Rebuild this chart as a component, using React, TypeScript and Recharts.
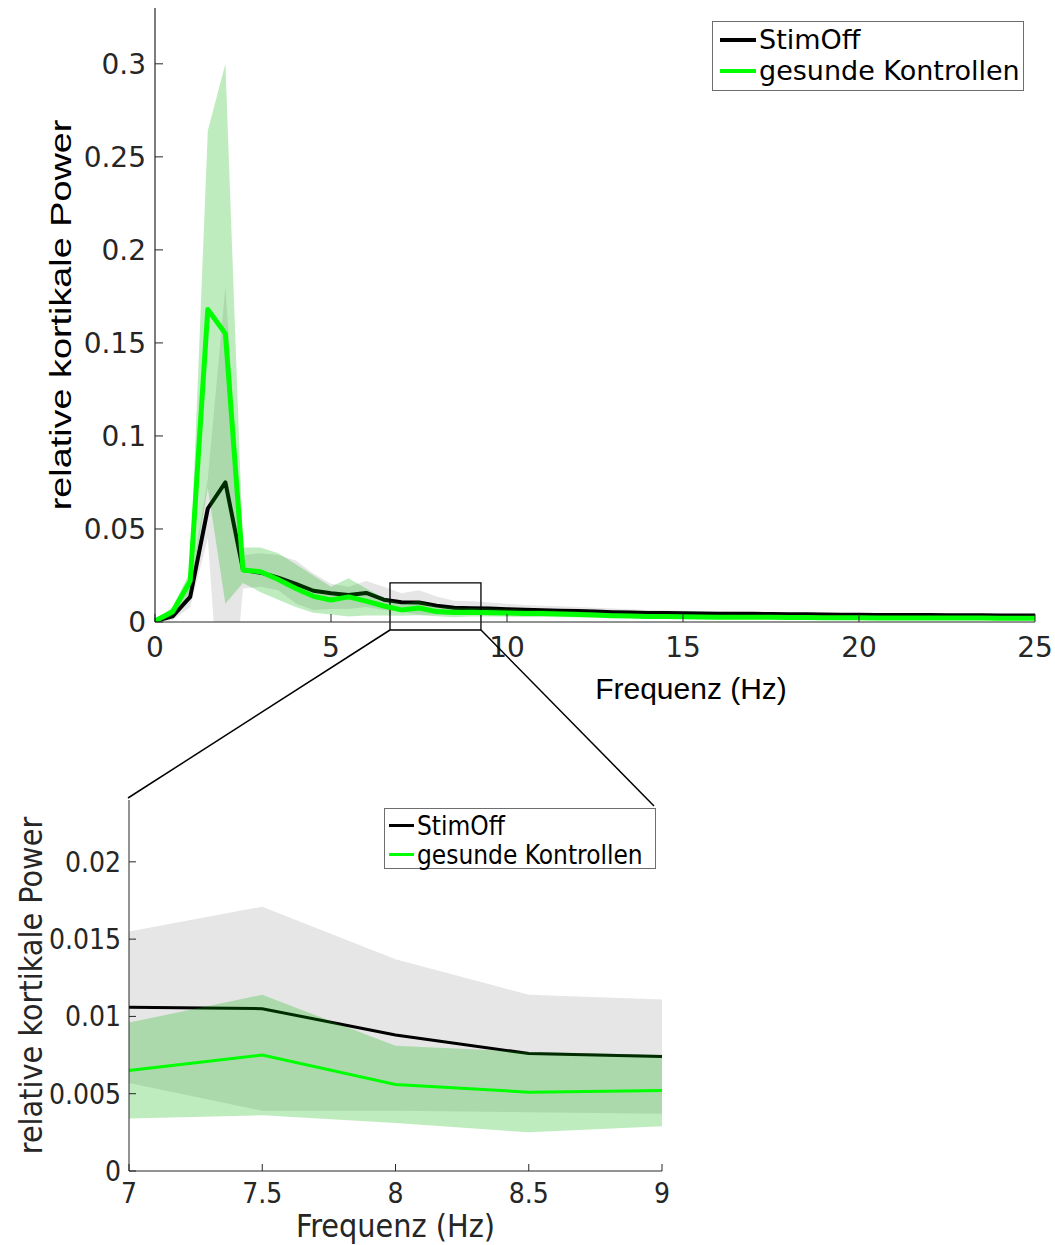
import React from 'react';
import { ComposedChart, Area, Line, XAxis, YAxis, Legend, ReferenceArea, Label } from 'recharts';

// ---------- data ----------
const freq = [
  0, 0.5, 1, 1.5, 2, 2.5, 3, 3.5, 4, 4.5, 5, 5.5, 6, 6.5, 7, 7.5, 8, 8.5, 9, 9.5,
  10, 10.5, 11, 11.5, 12, 12.5, 13, 13.5, 14, 14.5, 15, 15.5, 16, 16.5, 17, 17.5, 18, 18.5, 19, 19.5,
  20, 20.5, 21, 21.5, 22, 22.5, 23, 23.5, 24, 24.5, 25,
];

const stimOffMean = [
  0.0005, 0.003, 0.0135, 0.061, 0.075, 0.028, 0.0265, 0.0238, 0.0205, 0.0168, 0.0154, 0.0145, 0.0156, 0.012, 0.0106, 0.0105, 0.0088, 0.0076, 0.0074, 0.0072,
  0.0069, 0.0066, 0.0063, 0.0061, 0.0059, 0.0056, 0.0053, 0.0051, 0.0049, 0.0048, 0.0047, 0.0046, 0.0045, 0.0044, 0.0044, 0.0043, 0.0042, 0.0041, 0.004, 0.0039,
  0.0039, 0.0038, 0.0038, 0.0037, 0.0037, 0.0036, 0.0036, 0.0036, 0.0035, 0.0035, 0.0035,
];
const stimOffLow = [
  0, 0.001, 0.008, 0.045, -0.09, 0.018, 0.019, 0.017, 0.01, 0.0065, 0.007, 0.007, 0.008, 0.0065, 0.0057, 0.0039, 0.0039, 0.0038, 0.0037, 0.0037,
  0.0037, 0.0036, 0.0036, 0.0035, 0.0035, 0.0034, 0.0033, 0.0032, 0.0031, 0.0031, 0.003, 0.003, 0.003, 0.0029, 0.0029, 0.0029, 0.0028, 0.0028, 0.0028, 0.0027,
  0.0027, 0.0027, 0.0027, 0.0026, 0.0026, 0.0026, 0.0026, 0.0026, 0.0025, 0.0025, 0.0025,
];
const stimOffHigh = [
  0.001, 0.005, 0.02, 0.077, 0.18, 0.036, 0.037, 0.036, 0.033, 0.026, 0.0205, 0.019, 0.022, 0.019, 0.0155, 0.0171, 0.0137, 0.0114, 0.0111, 0.0105,
  0.0098, 0.0092, 0.0088, 0.0084, 0.008, 0.0076, 0.0072, 0.0068, 0.0065, 0.0062, 0.006, 0.0058, 0.0056, 0.0055, 0.0054, 0.0053, 0.0052, 0.0051, 0.005, 0.0049,
  0.0048, 0.0047, 0.0047, 0.0046, 0.0046, 0.0045, 0.0045, 0.0045, 0.0044, 0.0044, 0.0044,
];

const controlMean = [
  0.0005, 0.0055, 0.022, 0.168, 0.155, 0.028, 0.027, 0.0228, 0.018, 0.0138, 0.0118, 0.0135, 0.0112, 0.0086, 0.0065, 0.0075, 0.0056, 0.0051, 0.0052, 0.005,
  0.0048, 0.0046, 0.0046, 0.0043, 0.004, 0.0037, 0.0034, 0.0032, 0.003, 0.0029, 0.0028, 0.0027, 0.0026, 0.0026, 0.0025, 0.0025, 0.0024, 0.0024, 0.0023, 0.0023,
  0.0023, 0.0022, 0.0022, 0.0022, 0.0021, 0.0021, 0.0021, 0.0021, 0.002, 0.002, 0.002,
];
const controlLow = [
  0, 0.003, 0.016, 0.072, 0.0098, 0.021, 0.016, 0.012, 0.008, 0.005, 0.004, 0.003, 0.0035, 0.0035, 0.0034, 0.0036, 0.0031, 0.0025, 0.0029, 0.0029,
  0.0028, 0.0027, 0.0027, 0.0026, 0.0025, 0.0023, 0.0022, 0.0021, 0.002, 0.0019, 0.0019, 0.0018, 0.0018, 0.0018, 0.0017, 0.0017, 0.0017, 0.0017, 0.0016, 0.0016,
  0.0016, 0.0016, 0.0016, 0.0016, 0.0015, 0.0015, 0.0015, 0.0015, 0.0015, 0.0015, 0.0015,
];
const controlHigh = [
  0.001, 0.008, 0.027, 0.264, 0.3, 0.04, 0.04, 0.037, 0.031, 0.025, 0.019, 0.0235, 0.018, 0.013, 0.0096, 0.0114, 0.0081, 0.0077, 0.0075, 0.0072,
  0.0068, 0.0066, 0.0065, 0.0061, 0.0056, 0.0051, 0.0047, 0.0044, 0.0041, 0.0039, 0.0038, 0.0036, 0.0035, 0.0034, 0.0033, 0.0033, 0.0032, 0.0031, 0.003, 0.003,
  0.003, 0.0029, 0.0029, 0.0028, 0.0028, 0.0028, 0.0027, 0.0027, 0.0026, 0.0026, 0.0026,
];

const mainXTicks = [0, 5, 10, 15, 20, 25];
const mainYTicks = [0, 0.05, 0.1, 0.15, 0.2, 0.25, 0.3];
const zoomXTicks = [7, 7.5, 8, 8.5, 9];
const zoomYTicks = [0, 0.005, 0.01, 0.015, 0.02];
const zoomRange = [7, 9];
const zoomBox = { x1: 6.676, x2: 9.26, y1: -0.0043, y2: 0.021 };

const seriesNames = ['StimOff', 'gesunde Kontrollen'];
const xLabel = 'Frequenz (Hz)';
const yLabel = 'relative kortikale Power';

const data = freq.map((f, i) => ({
  f,
  off: stimOffMean[i],
  ctl: controlMean[i],
  offBand: [stimOffLow[i], stimOffHigh[i]],
  ctlBand: [controlLow[i], controlHigh[i]],
}));
const zoomData = data.filter((d) => d.f >= zoomRange[0] && d.f <= zoomRange[1]);

// ---------- styles ----------
const AXIS = '#262626';
const GREEN = '#00ff00';
const BAND_GREEN = '#00b200';
const BAND_GREY = '#e6e6e6';
const MAIN_FONT = "'DejaVu Sans', sans-serif";
const LABEL_FONT = "'Liberation Sans', Arial, sans-serif";
const COND_FONT = "'DejaVu Sans Condensed', 'DejaVu Sans', sans-serif";

type TickCfg = { font: string; size: number; len: number; gap: number; stretch?: string };

const makeYTick = (cfg: TickCfg) => (props: any) => {
  const { x, y, payload } = props;
  const ax = x + cfg.gap;
  return (
    <g>
      <line x1={ax} y1={y} x2={ax + cfg.len} y2={y} stroke={AXIS} strokeWidth={1} />
      <text x={x} y={y} dy="0.36em" textAnchor="end" fontFamily={cfg.font} fontSize={cfg.size}
        style={{ fontStretch: cfg.stretch || 'normal' }} fill={AXIS}>{String(payload.value)}</text>
    </g>
  );
};

const makeXTick = (cfg: TickCfg) => (props: any) => {
  const { x, y, payload } = props;
  const ay = y - cfg.gap;
  return (
    <g>
      <line x1={x} y1={ay} x2={x} y2={ay - cfg.len} stroke={AXIS} strokeWidth={1} />
      <text x={x} y={y} dy="0.74em" textAnchor="middle" fontFamily={cfg.font} fontSize={cfg.size}
        style={{ fontStretch: cfg.stretch || 'normal' }} fill={AXIS}>{String(payload.value)}</text>
    </g>
  );
};

const makeLegend = (o: { font: string; size: number; lineLen: number; lineW: number; rowH: number; padX: number; w: number; h: number; stretch?: string }) => () => (
  <div style={{ width: o.w, height: o.h, boxSizing: 'border-box', border: '1px solid #6e6e6e', background: '#fff', paddingLeft: o.padX, paddingTop: 2 }}>
    {seriesNames.map((n, i) => (
      <div key={n} style={{ display: 'flex', alignItems: 'center', height: o.rowH, whiteSpace: 'nowrap' }}>
        <span style={{ display: 'inline-block', width: o.lineLen, height: o.lineW, background: i === 0 ? '#000' : GREEN, marginRight: 3 }} />
        <span style={{ fontFamily: o.font, fontSize: o.size, color: '#000', fontStretch: o.stretch || 'normal', lineHeight: 1 }}>{n}</span>
      </div>
    ))}
  </div>
);

const App = () => {
  return (
    <div style={{ position: 'absolute', left: 0, top: 0, width: 1055, height: 1245, background: '#fff' }}>
      {/* main chart */}
      <div style={{ position: 'absolute', left: 0, top: 0 }}>
        <ComposedChart width={1055} height={705} data={data} margin={{ top: 8, right: 20, bottom: 5, left: 0 }}>
          <XAxis dataKey="f" type="number" domain={[0, 25]} ticks={mainXTicks} height={78} stroke={AXIS}
            tickSize={0} tickMargin={14} tickLine={false} axisLine={{ stroke: AXIS, strokeWidth: 1.2 }}
            tick={makeXTick({ font: MAIN_FONT, size: 28, len: 8, gap: 14 })} interval={0}>
            <Label content={(p: any) => {
              const vb = p.viewBox;
              return <text x={vb.x + vb.width / 2 + 96} y={vb.y + 77} textAnchor="middle" fontFamily={LABEL_FONT} fontSize={30} fill="#000">{xLabel}</text>;
            }} />
          </XAxis>
          <YAxis type="number" domain={[0, 0.33]} ticks={mainYTicks} width={155} allowDataOverflow stroke={AXIS}
            tickSize={0} tickMargin={9} tickLine={false} axisLine={{ stroke: AXIS, strokeWidth: 1.2 }}
            tick={makeYTick({ font: MAIN_FONT, size: 28, len: 8, gap: 9 })} interval={0}>
            <Label content={(p: any) => {
              const vb = p.viewBox;
              const cx = vb.x + 71;
              const cy = vb.y + vb.height / 2;
              return <text transform={`translate(${cx},${cy}) rotate(-90) scale(1.26,1)`} x={0} y={0} textAnchor="middle" fontFamily={LABEL_FONT} fontSize={30} fill="#000">{yLabel}</text>;
            }} />
          </YAxis>
          <Area dataKey="offBand" type="linear" stroke="none" fill={BAND_GREY} fillOpacity={1} isAnimationActive={false} activeDot={false} />
          <Area dataKey="off" type="linear" stroke="#000" strokeWidth={4} fill="none" fillOpacity={0} activeDot={false} isAnimationActive={false} strokeLinejoin="round" />
          <Area dataKey="ctlBand" type="linear" stroke="none" fill={BAND_GREEN} fillOpacity={0.25} isAnimationActive={false} activeDot={false} />
          <Line dataKey="ctl" type="linear" stroke={GREEN} strokeWidth={5} dot={false} activeDot={false} isAnimationActive={false} strokeLinejoin="round" />
          <ReferenceArea x1={zoomBox.x1} x2={zoomBox.x2} y1={zoomBox.y1} y2={zoomBox.y2} ifOverflow="visible" fill="none" fillOpacity={0} stroke="#000" strokeWidth={1.3} />
          <Legend layout="vertical" align="center" verticalAlign="middle"
            wrapperStyle={{ left: 712, top: 21, width: 312, height: 70 }}
            content={makeLegend({ font: MAIN_FONT, size: 27, lineLen: 36, lineW: 4, rowH: 31, padX: 7, w: 312, h: 70 })} />
        </ComposedChart>
      </div>

      {/* zoomed inset */}
      <div style={{ position: 'absolute', left: 0, top: 790 }}>
        <ComposedChart width={700} height={455} data={zoomData} margin={{ top: 10, right: 38, bottom: 0, left: 0 }}>
          <XAxis dataKey="f" type="number" domain={zoomRange} ticks={zoomXTicks} height={74} stroke={AXIS}
            tickSize={0} tickMargin={11} tickLine={false} axisLine={{ stroke: AXIS, strokeWidth: 1 }}
            tick={makeXTick({ font: COND_FONT, size: 28, len: 7, gap: 11, stretch: 'condensed' })} interval={0}>
            <Label content={(p: any) => {
              const vb = p.viewBox;
              return <text x={vb.x + vb.width / 2} y={vb.y + 66} textAnchor="middle" fontFamily={COND_FONT} style={{ fontStretch: 'condensed' }} fontSize={32} fill={AXIS}>{xLabel}</text>;
            }} />
          </XAxis>
          <YAxis type="number" domain={[0, 0.024]} ticks={zoomYTicks} width={129} allowDataOverflow stroke={AXIS}
            tickSize={0} tickMargin={8} tickLine={false} axisLine={{ stroke: AXIS, strokeWidth: 1 }}
            tick={makeYTick({ font: COND_FONT, size: 28, len: 7, gap: 8, stretch: 'condensed' })} interval={0}>
            <Label content={(p: any) => {
              const vb = p.viewBox;
              const cx = vb.x + 42;
              const cy = vb.y + vb.height / 2;
              return <text transform={`translate(${cx},${cy}) rotate(-90)`} x={0} y={0} textAnchor="middle" fontFamily={COND_FONT} style={{ fontStretch: 'condensed' }} fontSize={32} fill={AXIS}>{yLabel}</text>;
            }} />
          </YAxis>
          <Area dataKey="offBand" type="linear" stroke="none" fill={BAND_GREY} fillOpacity={1} isAnimationActive={false} activeDot={false} />
          <Area dataKey="off" type="linear" stroke="#000" strokeWidth={3} fill="none" fillOpacity={0} activeDot={false} isAnimationActive={false} />
          <Area dataKey="ctlBand" type="linear" stroke="none" fill={BAND_GREEN} fillOpacity={0.25} isAnimationActive={false} activeDot={false} />
          <Line dataKey="ctl" type="linear" stroke={GREEN} strokeWidth={3} dot={false} activeDot={false} isAnimationActive={false} />
          <Legend layout="vertical" align="center" verticalAlign="middle"
            wrapperStyle={{ left: 384, top: 18, width: 272, height: 61 }}
            content={makeLegend({ font: COND_FONT, size: 26, lineLen: 25, lineW: 3, rowH: 29, padX: 4, w: 272, h: 61, stretch: 'condensed' })} />
        </ComposedChart>
      </div>

      {/* connector lines from zoom box to inset */}
      <svg width={1055} height={1245} style={{ position: 'absolute', left: 0, top: 0, pointerEvents: 'none' }}>
        <line x1={390} y1={630} x2={128} y2={798} stroke="#000" strokeWidth={1.5} />
        <line x1={481} y1={630} x2={654} y2={806} stroke="#000" strokeWidth={1.5} />
      </svg>
    </div>
  );
};

export default App;
